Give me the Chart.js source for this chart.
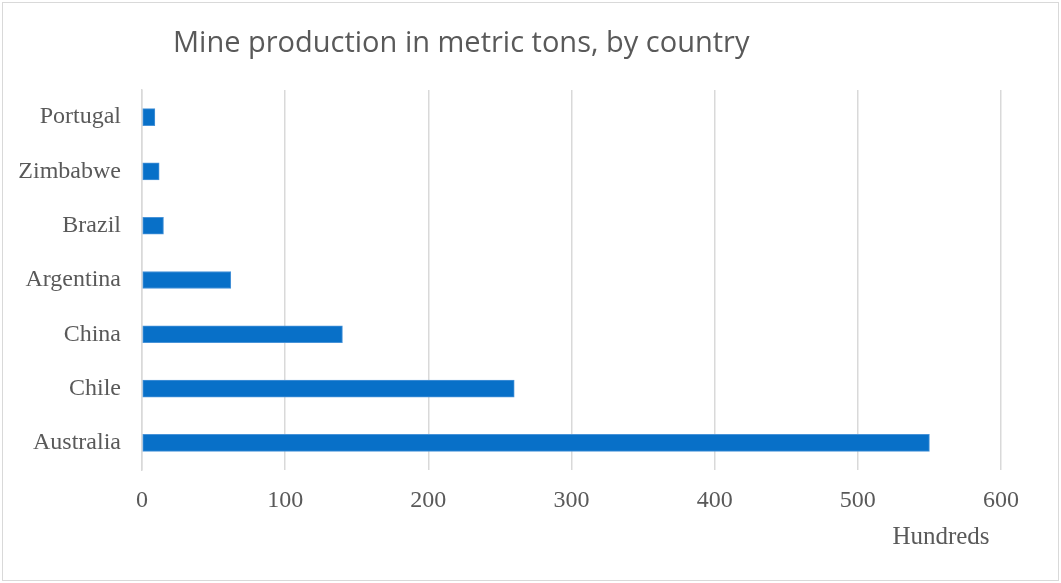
<!DOCTYPE html>
<html>
<head>
<meta charset="utf-8">
<title>Mine production</title>
<script src="https://cdn.jsdelivr.net/npm/chart.js@4"></script>
<style>
  body { margin: 0; background: #fff; }
  .frame { position: absolute; left: 2px; top: 2px; width: 1055px; height: 577px; border: 1px solid #d9d9d9; }
  canvas { position: absolute; left: 0; top: 0; }
</style>
</head>
<body>
<div class="frame"></div>
<canvas id="myChart" width="1061" height="583"></canvas>
<script>
// countries, top to bottom
const countries = ["Portugal", "Zimbabwe", "Brazil", "Argentina", "China", "Chile", "Australia"];
// production, in hundreds of metric tons
const production = [9, 12, 15, 62, 140, 260, 550];
const xTicks = [0, 100, 200, 300, 400, 500, 600];

const titleText = "Mine production in metric tons, by country";
const unitText = "Hundreds";
const gray = "#595959";
const serif = "'Liberation Serif', 'Times New Roman', serif";

// chart title and the unit note, drawn at fixed spots
const textPlugin = {
  id: "extraText",
  afterDraw(chart) {
    const c = chart.ctx;
    c.save();
    c.fillStyle = gray;
    c.textBaseline = "middle";
    c.font = "29px 'Open Sans', sans-serif";
    c.textAlign = "left";
    c.fillText(titleText, 173, 44);
    c.font = "25px " + serif;
    c.textAlign = "center";
    c.fillText(unitText, 941, 537);
    c.restore();
  },
};

var ctx = document.getElementById("myChart").getContext("2d");

var myChart = new Chart(ctx, {
  type: "bar",
  data: {
    labels: countries,
    datasets: [
      {
        label: "Production",
        data: production,
        backgroundColor: "#0870c8",
        borderColor: "#4893d8",
        borderWidth: 1,
        borderSkipped: false,
        barThickness: 17,
      },
    ],
  },
  options: {
    indexAxis: "y",
    responsive: false,
    animation: false,
    layout: { padding: { left: 0, right: 60, top: 90, bottom: 32 } },
    plugins: {
      legend: { display: false },
      tooltip: { enabled: false },
    },
    scales: {
      x: {
        min: 0,
        max: 600,
        afterBuildTicks(scale) {
          scale.ticks = xTicks.map((v) => ({ value: v }));
        },
        afterFit(scale) {
          scale.height = 81;
        },
        grid: { color: "#d9d9d9", lineWidth: 1.5, drawTicks: false },
        border: { display: false },
        ticks: { color: gray, font: { family: serif, size: 24 }, padding: 16 },
      },
      y: {
        afterFit(scale) {
          scale.width = 142;
        },
        grid: { display: false, drawTicks: false },
        border: { color: "#d9d9d9", width: 1.5 },
        ticks: { color: gray, font: { family: serif, size: 24 }, padding: 21 },
      },
    },
  },
  plugins: [textPlugin],
});
</script>
</body>
</html>
